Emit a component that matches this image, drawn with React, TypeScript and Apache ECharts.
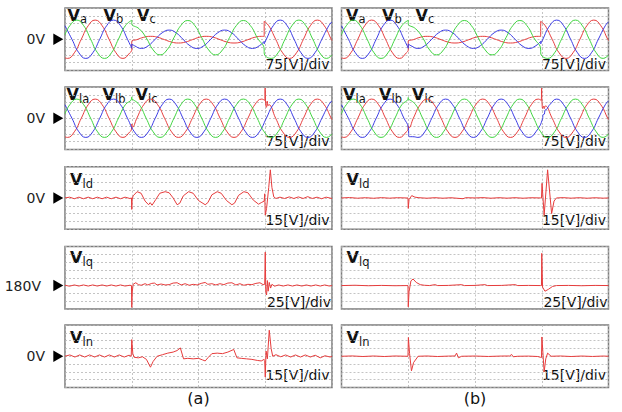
import React, { useEffect, useRef } from "react";
import * as echarts from "echarts";

type P = [number, number];

// ---------- grid voltages (V), time in % of screen (4 div = 100) ----------
const gridVa: P[] = [[0,-178],[0.9,-184],[3.5,-130],[6.1,0],[8.7,130],[11.3,184],[13.9,130],[16.5,0],[19.1,-130],[21.7,-184],[24.3,-130],[25,-100],
  [25,-20],[26.9,-4],[29.5,19],[32.1,28],[34.7,19],[37.3,-4],[39.9,-27],[42.5,-36],[45.1,-27],[47.7,-4],[50.3,19],[52.9,28],[55.5,19],[58.1,-4],[60.7,-27],[63.3,-36],[65.9,-27],[68.5,-4],[71.1,19],[73.7,28],[74.6,27],
  [74.6,172],[76.3,130],[78.9,0],[81.5,-130],[84.1,-184],[86.7,-130],[89.3,0],[91.9,130],[94.5,184],[97.1,130],[99.7,0],[100,-13]];
const gridVb: P[] = [[0,130],[2.6,0],[5.2,-130],[7.8,-184],[10.4,-130],[13.0,0],[15.6,130],[18.2,184],[20.8,130],[23.4,0],[25,-86],
  [25,-45],[26.0,-62],[28.6,-88],[31.2,-62],[33.8,0],[36.4,62],[39.0,88],[41.6,62],[44.2,0],[46.8,-62],[49.4,-88],[52.0,-62],[54.6,0],[57.2,62],[59.8,88],[62.4,62],[65.0,0],[67.6,-62],[70.2,-88],[72.8,-62],[74.6,-20],
  [74.6,-45],[75.4,0],[78.0,130],[80.6,184],[83.2,130],[85.8,0],[88.4,-130],[91.0,-184],[93.6,-130],[96.2,0],[98.8,130],[100,168]];
const gridVc: P[] = [[0,44],[1.8,130],[4.4,184],[7.0,130],[9.6,0],[12.2,-130],[14.8,-184],[17.4,-130],[20.0,0],[22.6,130],[25,182],
  [25,150],[27.8,100],[30.4,15],[33.0,-102],[35.6,-150],[38.2,-102],[40.8,15],[43.4,132],[46.0,180],[48.6,132],[51.2,15],[53.8,-102],[56.4,-150],[59.0,-102],[61.6,15],[64.2,132],[66.8,180],[69.4,132],[72.0,15],[74.6,-102],
  [74.6,-130],[77.2,-184],[79.8,-130],[82.4,0],[85.0,130],[87.6,184],[90.2,130],[92.8,0],[95.4,-130],[98.0,-184],[100,-151]];

// ---------- load voltages (V) ----------
const loadVaBase: P[] = [[0,-178],[0.9,-184],[3.5,-130],[6.1,0],[8.7,130],[11.3,184],[13.9,130],[16.5,0],[19.1,-130],[21.7,-184],[24.3,-130],[26.9,0],[29.5,130],[32.1,184],[34.7,130],[37.3,0],[39.9,-130],[42.5,-184],[45.1,-130],[47.7,0],[50.3,130],[52.9,184],[55.5,130],[58.1,0],[60.7,-130],[63.3,-184],[65.9,-130],[68.5,0],[71.1,130],[73.7,184],[76.3,130],[78.9,0],[81.5,-130],[84.1,-184],[86.7,-130],[89.3,0],[91.9,130],[94.5,184],[97.1,130],[99.7,0],[100,-13]];
const loadVbBase: P[] = [[0,130],[2.6,0],[5.2,-130],[7.8,-184],[10.4,-130],[13.0,0],[15.6,130],[18.2,184],[20.8,130],[23.4,0],[26.0,-130],[28.6,-184],[31.2,-130],[33.8,0],[36.4,130],[39.0,184],[41.6,130],[44.2,0],[46.8,-130],[49.4,-184],[52.0,-130],[54.6,0],[57.2,130],[59.8,184],[62.4,130],[65.0,0],[67.6,-130],[70.2,-184],[72.8,-130],[75.4,0],[78.0,130],[80.6,184],[83.2,130],[85.8,0],[88.4,-130],[91.0,-184],[93.6,-130],[96.2,0],[98.8,130],[100,168]];
const loadVcBase: P[] = [[0,44],[1.8,130],[4.4,184],[7.0,130],[9.6,0],[12.2,-130],[14.8,-184],[17.4,-130],[20.0,0],[22.6,130],[25.2,184],[27.8,130],[30.4,0],[33.0,-130],[35.6,-184],[38.2,-130],[40.8,0],[43.4,130],[46.0,184],[48.6,130],[51.2,0],[53.8,-130],[56.4,-184],[59.0,-130],[61.6,0],[64.2,130],[66.8,184],[69.4,130],[72.0,0],[74.6,-130],[77.2,-184],[79.8,-130],[82.4,0],[85.0,130],[87.6,184],[90.2,130],[92.8,0],[95.4,-130],[98.0,-184],[100,-151]];

// transients on load voltages
const glitchVaA25: P[] = [[24.9,-105],[25.05,-55],[25.3,-85]];
const glitchVaA75: P[] = [[74.8,172],[74.95,290],[75.15,140],[75.45,105],[75.75,165],[76.05,120]];
const glitchVcA25: P[] = [[24.9,183],[25.0,205],[25.1,182]];
const glitchVaB25: P[] = [[24.9,-105],[25.05,-72],[25.25,-92]];
const glitchVaB75: P[] = [[74.8,172],[74.95,290],[75.1,150],[75.35,95],[75.65,118],[75.95,92],[76.3,118]];
const glitchVbB25: P[] = [[25.0,-86],[25.3,-176],[27.2,-178]];
const glitchVbB75: P[] = [[75.3,-3],[75.5,35],[76.0,40],[76.2,78],[76.8,85],[77.2,100]];
const glitchVcB25: P[] = [[24.9,183],[25.0,200],[25.1,182]];

// ---------- dq0 load voltages (V) ----------
const vldA: P[] = [[0,0],[1.7,1.5],[3.5,-1.5],[5.2,1.5],[6.9,-1.5],[8.7,1.5],[10.4,-1.5],[12.1,1.5],[13.9,-1.5],[15.6,1.5],[17.3,-1.5],[19.1,1.5],[20.8,-1.5],[22.5,1.5],[24.3,-1],
  [24.9,0],[25.0,-22],[25.15,-3],[25.5,4],[27.0,12],[28.5,9],[30.0,-6],[31.3,-13],[31.9,-9],[32.6,-14],[34.0,-3],[35.5,9],[37.5,12],[39.0,10],[40.5,0],[42.0,-13],[43.0,-10],[44.3,4],[46.3,12],[48.0,9],[50.0,-5],[52.5,-13],[53.5,-9],[55.0,6],[57.0,12],[58.5,9],[60.5,-5],[62.5,-13],[63.5,-10],[65.0,5],[67.0,12],[68.5,10],[70.5,-4],[72.5,-12],[73.5,-9],[74.6,-6],
  [74.8,8],[75.0,-33],[75.5,-20],[76.3,20],[76.9,54],[77.5,20],[78.2,2],[79.0,-1],[80.5,1.5],[82.2,-1],[84.0,2],[85.7,-1],[87.4,2],[89.2,-1],[90.9,2.5],[92.6,-1],[94.4,1.5],[96.1,-1.5],[97.8,1.5],[100,-1]];
const vlqA: P[] = [[0,181],[1.7,178],[3.5,182],[5.2,178.5],[6.9,182],[8.7,178.5],[10.4,182],[12.1,178.5],[13.9,182],[15.6,178.5],[17.3,182],[19.1,178.5],[20.8,182],[22.5,178.5],[24.3,181],
  [24.9,180],[25.0,110],[25.2,160],[25.5,184],[26.5,189],[27.5,183],[28.5,181],[30,186],[31,182],[32.5,187],[33.5,188],[34.5,182],[36,185],[37.5,182],[39,183],[40.5,188],[42,189],[43.5,182],[45,186],[46.5,181],[48,184],[49.5,182],[51,187],[52.5,190],[53.5,184],[55,186],[56.5,182],[58,186],[59.5,183],[61,188],[62.5,189],[64,182],[65.5,186],[67,181],[68.5,184],[70,183],[71.5,187],[73,189],[74.2,183],
  [74.8,184],[75.0,287],[75.2,160],[75.5,150],[75.8,196],[76.1,162],[76.5,190],[77,172],[77.5,184],[78.5,178],[80,182],[81.7,178.5],[83.5,182],[85.2,178.5],[86.9,182],[88.7,178.5],[90.4,182],[92.1,178.5],[93.9,182],[95.6,178.5],[97.3,182],[99,178.5],[100,180]];
const vlnA: P[] = [[0,0],[1.8,2.5],[3.7,-1.5],[5.5,2.5],[7.4,-1.5],[9.2,2.5],[11.1,-1.5],[12.9,2.5],[14.8,-1.5],[16.6,2.5],[18.5,-1.5],[20.3,2.5],[22.2,-1.5],[24.0,2],
  [24.8,0],[25.0,32],[25.4,5],[25.9,-2],[27.5,-3],[29,-1],[30.5,-6],[32.0,-21],[33,-10],[34.5,0],[36.5,3],[38.5,6],[40.5,8],[42.0,11],[43.2,16],[44.4,-5],[46,-4],[48,-5],[50,-4],[51.5,-7],[52.5,-9],[53.5,-3],[55,5],[57,6],[59,5],[61,8],[63.2,13],[64.4,-3],[66,-4],[68,-5],[70,-6],[72,-8],[73.5,-9],[74.6,-6],
  [74.8,-8],[75.0,-40],[75.3,10],[75.8,-5],[76.5,50],[77.2,15],[77.8,0],[79,3],[80.8,-1],[82.6,2.5],[84.5,-1.5],[86.3,2.5],[88.2,-1.5],[90,2.5],[91.9,-1.5],[93.7,2],[95.6,-3],[97.4,1],[99.3,-1.5],[100,0]];
const vldB: P[] = [[0,0],[3,0.8],[6,-0.5],[9,0.5],[12,-0.6],[15,0.6],[18,-0.4],[21,0.5],[24.2,0],
  [24.9,0],[25.0,-20],[25.3,-3],[26.3,4.5],[27.5,1.5],[29,0.5],[32,-0.5],[35,0.5],[38,-0.5],[41,0.4],[45.5,-1.5],[46.5,0.5],[50,0],[53,0.6],[56,-0.5],[59,0.5],[62,-0.4],[65,0.5],[68,-0.5],[71,0.4],[74.5,0],
  [74.9,0],[75.1,28],[75.9,-33],[77.2,54],[78.7,-30],[79.6,-6],[80.5,0],[83,0.6],[86,-0.4],[89,0.5],[92,-0.5],[95,0.4],[98,-0.4],[100,0]];
const vlqB: P[] = [[0,180],[5,181],[10,179.5],[15,180.5],[20,179.5],[24.5,180],[24.9,180],[25.0,112],[25.3,160],[26.0,195],[26.8,201],[28,190],[29.5,183],[31,181],[33,180],[35,183],[36,180],[40,180.5],[45,183],[46,180],[50,180.5],[53.7,183],[54.7,180],[60,180.5],[65,183],[66,180],[70,180.5],[74.5,180],
  [74.9,180],[75.0,283],[75.3,175],[76.2,162],[77.5,168],[79,177],[80.5,180],[85,180.5],[90,179.5],[95,180.5],[100,180]];
const vlnB: P[] = [[0,0],[4,0.6],[8,-0.5],[12,0.5],[16,-0.5],[20,0.5],[24.5,0],[24.9,0],[25.05,36],[25.5,5],[26.2,-28],[27,-12],[28.7,0],[32,0.5],[36,-0.5],[40,0.3],[42.5,0.5],[43.1,6],[43.8,-3],[45,0],[50,0.4],[55,-0.4],[60,0.4],[63,0.5],[63.7,3.5],[64.3,-1],[66,0],[70,0.3],[73.5,-0.5],[74.5,-2],
  [74.9,-2.5],[75.05,37],[75.9,-30],[76.5,-5],[77.2,6],[78.5,0],[82,0.5],[86,-0.5],[90,0.4],[94,-0.4],[98,0.4],[100,0]];

const rowScales = [75, 75, 15, 25, 15];
const rowRefs = [0, 0, 0, 180, 0];
const rowRefDiv = [0, 0, 0, -1, 0];
const rowScaleLabels = ["75[V]/div", "75[V]/div", "15[V]/div", "25[V]/div", "15[V]/div"];
const rowLevelLabels = ["0V", "0V", "0V", "180V", "0V"];
const panelTags = ["(a)", "(b)"];

const RED = "#e63c3c";
const GREEN = "#3fd43f";
const BLUE = "#3a3ae4";

const COL_LEFT = [65, 341.5];
const COL_W = 267;
const ROW_TOP = [8, 87, 166.7, 246.5, 325];
const ROW_H = 62.5;
const FONT = "DejaVu Sans, Verdana, sans-serif";

function merge(base: P[], ...glitches: P[][]): P[] {
  let out = base.slice();
  for (const g of glitches) {
    const t0 = g[0][0], t1 = g[g.length - 1][0];
    out = out.filter((p) => p[0] < t0 || p[0] > t1).concat(g);
  }
  return out.sort((a, b) => a[0] - b[0]);
}

type Panel = { row: number; col: number; lines: { data: P[]; color: string }[]; smooth: boolean };

const panels: Panel[] = [
  { row: 0, col: 0, smooth: true, lines: [{ data: gridVa, color: RED }, { data: gridVb, color: BLUE }, { data: gridVc, color: GREEN }] },
  { row: 0, col: 1, smooth: true, lines: [{ data: gridVa, color: RED }, { data: gridVb, color: BLUE }, { data: gridVc, color: GREEN }] },
  { row: 1, col: 0, smooth: true, lines: [
    { data: merge(loadVaBase, glitchVaA25, glitchVaA75), color: RED },
    { data: loadVbBase, color: BLUE },
    { data: merge(loadVcBase, glitchVcA25), color: GREEN }] },
  { row: 1, col: 1, smooth: true, lines: [
    { data: merge(loadVaBase, glitchVaB25, glitchVaB75), color: RED },
    { data: merge(loadVbBase, glitchVbB25, glitchVbB75), color: BLUE },
    { data: merge(loadVcBase, glitchVcB25), color: GREEN }] },
  { row: 2, col: 0, smooth: false, lines: [{ data: vldA, color: RED }] },
  { row: 2, col: 1, smooth: false, lines: [{ data: vldB, color: RED }] },
  { row: 3, col: 0, smooth: false, lines: [{ data: vlqA, color: RED }] },
  { row: 3, col: 1, smooth: false, lines: [{ data: vlqB, color: RED }] },
  { row: 4, col: 0, smooth: false, lines: [{ data: vlnA, color: RED }] },
  { row: 4, col: 1, smooth: false, lines: [{ data: vlnB, color: RED }] },
];

// titles per row: [V offset from panel left, subscript]
const rowTitles: [number, string][][] = [
  [[2.5, "a"], [38.5, "b"], [72, "c"]],
  [[1.5, "la"], [37.5, "lb"], [70.5, "lc"]],
  [[5, "ld"]],
  [[5, "lq"]],
  [[5, "ln"]],
];
const titleBaseline = [12.5, 13, 18.3, 16.8, 18.3];
const scaleLabelFromBottom = [7, 8.5, 9.5, 7, 13];
const scaleLabelRightPad = [2.5, 2.5, 2.5, 1, 2.5];

export default function App() {
  const ref = useRef<HTMLDivElement>(null);
  useEffect(() => {
    if (!ref.current) return;
    const chart = echarts.init(ref.current, undefined, { renderer: "svg" });

    const grids = panels.map((p) => ({
      left: COL_LEFT[p.col], top: ROW_TOP[p.row], width: COL_W, height: ROW_H,
      show: true, borderColor: "#7c7c7c", borderWidth: 1.5, containLabel: false,
    }));
    const split = { show: true, lineStyle: { color: "#b5b5b5", width: 0.8, type: [2, 2] as any } };
    const xAxes = panels.map((_, i) => ({
      type: "value", gridIndex: i, min: 0, max: 100, interval: 25,
      axisLine: { show: false }, axisTick: { show: false }, axisLabel: { show: false }, splitLine: split,
    }));
    const yAxes = panels.map((_, i) => ({
      type: "value", gridIndex: i, min: -4, max: 4, interval: 1,
      axisLine: { show: false }, axisTick: { show: false }, axisLabel: { show: false }, splitLine: split,
    }));
    const series: any[] = [];
    panels.forEach((p, i) => {
      const sc = rowScales[p.row], r0 = rowRefs[p.row], rd = rowRefDiv[p.row];
      p.lines.forEach((l) => {
        series.push({
          type: "line", xAxisIndex: i, yAxisIndex: i, silent: true,
          data: l.data.map(([t, v]) => [t, (v - r0) / sc + rd]),
          showSymbol: false, symbol: "none", smooth: p.smooth ? 0.5 : false,
          lineStyle: { color: l.color, width: 1 }, itemStyle: { color: l.color },
        });
      });
    });

    const graphic: any[] = [];
    for (let r = 0; r < 5; r++) {
      const top = ROW_TOP[r], bottom = ROW_TOP[r] + ROW_H;
      const level = top + ROW_H / 2 - (rowRefDiv[r] * ROW_H) / 8;
      graphic.push({ type: "text", x: r === 3 ? 41 : 45, y: level, style: { text: rowLevelLabels[r], fontSize: 14, fontFamily: FONT, fill: "#222", align: "right", verticalAlign: "middle" } });
      graphic.push({ type: "polygon", shape: { points: [[53.3, level - 5.8], [63.3, level], [53.3, level + 5.8]] }, style: { fill: "#000" } });
      for (let c = 0; c < 2; c++) {
        const left = COL_LEFT[c], right = COL_LEFT[c] + COL_W;
        const base = top + titleBaseline[r];
        rowTitles[r].forEach(([dx, sub]) => {
          const vx = left + dx + (c === 1 && r === 0 ? 2 : 0);
          graphic.push({ type: "text", x: vx, y: base - 5.5, style: { text: "V", fontSize: 16, fontWeight: "bold", fontFamily: FONT, fill: "#111", align: "left", verticalAlign: "middle" } });
          graphic.push({ type: "text", x: vx + 12.5, y: base + 2.5 - 4, style: { text: sub, fontSize: 11.5, fontFamily: FONT, fill: "#111", align: "left", verticalAlign: "middle" } });
        });
        graphic.push({ type: "text", x: right - scaleLabelRightPad[r], y: bottom - scaleLabelFromBottom[r], style: { text: rowScaleLabels[r], fontSize: 14, fontFamily: FONT, fill: "#111", align: "right", verticalAlign: "middle" } });
      }
    }
    for (let c = 0; c < 2; c++) {
      graphic.push({ type: "text", x: COL_LEFT[c] + COL_W / 2, y: 398, style: { text: panelTags[c], fontSize: 16, fontFamily: FONT, fill: "#111", align: "center", verticalAlign: "middle" } });
    }

    chart.setOption({
      animation: false,
      backgroundColor: "#fff",
      grid: grids, xAxis: xAxes, yAxis: yAxes, series, graphic,
    });
    return () => chart.dispose();
  }, []);
  return <div ref={ref} style={{ position: "fixed", left: 0, top: 0, width: 622, height: 412, background: "#fff" }} />;
}
